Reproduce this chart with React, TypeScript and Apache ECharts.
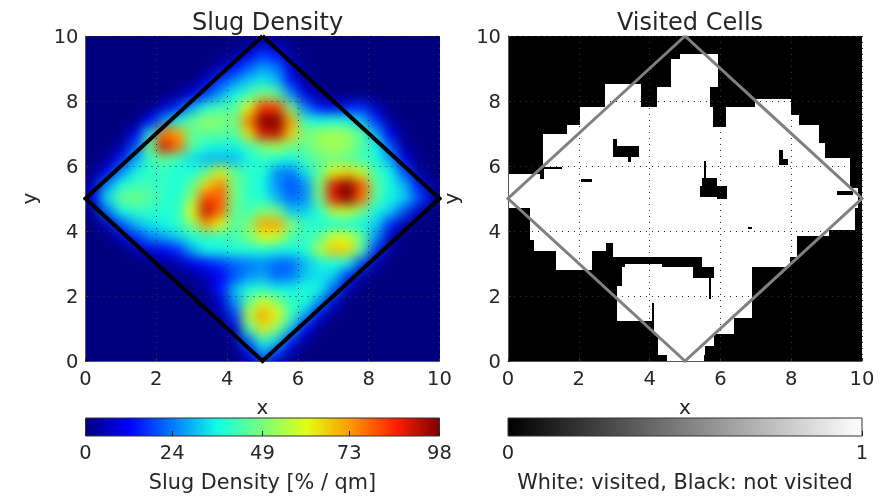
import React, { useEffect, useRef } from "react";
import * as echarts from "echarts";

const FONT = "DejaVu Sans";
const INK = "#262626";

const TICKS = [0, 2, 4, 6, 8, 10];
const DENSITY_BAR_TICKS = [0, 24, 49, 73, 98];
const VISITED_BAR_TICKS = [0, 1];
const JET = ["#00007f", "#0000ff", "#007fff", "#14ffe2", "#7aff7a", "#e2ff14", "#ff9700", "#ff2000", "#7f0000"];
const GREYS = ["#000000", "#ffffff"];

const X_CELLS = ["0.2","0.6","1.0","1.4","1.8","2.2","2.6","3.0","3.4","3.8","4.2","4.6","5.0","5.4","5.8","6.2","6.6","7.0","7.4","7.8","8.2","8.6","9.0","9.4","9.8"];
const Y_CELLS = ["9.8","9.4","9.0","8.6","8.2","7.8","7.4","7.0","6.6","6.2","5.8","5.4","5.0","4.6","4.2","3.8","3.4","3.0","2.6","2.2","1.8","1.4","1.0","0.6","0.2"];

// Slug density per cell, rows from y = 9.8 down to y = 0.2
const DENSITY = [
  [0,0,0,0,0,0,0,0,0,0,0,1,6,3,1,0,0,0,0,0,0,0,0,0,0],
  [0,0,0,0,0,0,0,0,0,0,3,10,18,14,3,0,0,0,0,0,0,0,0,0,0],
  [0,0,0,0,0,0,0,0,0,6,14,22,28,24,8,1,0,0,0,0,0,0,0,0,0],
  [0,0,0,0,0,0,0,0,8,18,26,32,35,30,14,3,0,0,0,0,0,0,0,0,0],
  [0,0,0,0,0,0,2,10,18,28,36,42,50,46,26,10,2,0,0,0,0,0,0,0,0],
  [0,0,0,0,0,8,16,28,38,42,44,62,84,82,48,24,14,10,14,16,6,0,0,0,0],
  [0,0,0,0,12,26,36,46,52,50,48,76,98,98,72,40,36,38,36,30,16,3,0,0,0],
  [0,0,0,10,34,76,72,46,46,46,44,66,90,92,68,48,52,54,52,44,28,10,1,0,0],
  [0,0,4,20,48,90,78,44,38,36,36,42,50,54,48,46,52,54,52,44,36,20,3,0,0],
  [0,2,14,28,40,46,40,34,30,30,30,36,40,38,36,42,46,48,46,42,38,28,10,1,0],
  [1,12,26,36,40,40,38,38,46,62,46,40,38,26,24,34,46,62,66,58,42,36,20,3,0],
  [6,26,38,42,42,40,38,46,66,76,48,40,36,26,20,26,50,90,98,80,46,36,30,14,2],
  [10,34,46,48,44,40,38,52,82,80,48,40,38,30,22,26,48,88,98,78,44,36,32,20,5],
  [2,22,36,40,40,38,40,62,92,78,46,42,50,48,32,32,40,56,58,48,36,32,20,6,0],
  [0,6,20,30,34,36,40,50,72,62,44,50,72,72,50,40,38,38,38,36,32,16,4,0,0],
  [0,0,6,16,24,28,32,38,40,40,42,48,60,58,44,40,46,60,60,46,26,6,0,0,0],
  [0,0,0,4,8,12,16,28,36,36,38,38,38,36,36,38,54,68,66,44,16,2,0,0,0],
  [0,0,0,0,0,2,5,10,14,18,22,24,26,22,22,30,36,38,36,18,4,0,0,0,0],
  [0,0,0,0,0,0,0,2,6,12,20,26,28,22,24,32,34,32,16,3,0,0,0,0,0],
  [0,0,0,0,0,0,0,0,3,14,30,38,40,36,36,38,36,22,5,0,0,0,0,0,0],
  [0,0,0,0,0,0,0,0,0,8,26,46,60,52,40,38,26,8,0,0,0,0,0,0,0],
  [0,0,0,0,0,0,0,0,0,3,18,56,72,62,42,28,10,1,0,0,0,0,0,0,0],
  [0,0,0,0,0,0,0,0,0,0,8,44,64,50,32,12,1,0,0,0,0,0,0,0,0],
  [0,0,0,0,0,0,0,0,0,0,2,22,40,32,14,2,0,0,0,0,0,0,0,0,0],
  [0,0,0,0,0,0,0,0,0,0,0,10,26,16,3,0,0,0,0,0,0,0,0,0,0],
];

// Visited areas: [x from, x to, y from, y to]
const VISITED = [
  [4.87,5.93,9.29,9.46],[4.6,5.93,8.44,9.29],[2.73,3.76,7.81,8.52],[4.21,5.72,7.81,8.44],[6.97,8.0,7.81,8.06],
  [2.02,5.79,7.27,7.81],[6.17,8.0,7.57,7.81],[6.17,8.21,7.27,7.57],[1.67,5.79,7.19,7.27],[6.17,8.79,7.19,7.27],
  [1.67,8.79,6.99,7.19],[0.99,8.79,6.71,6.99],[0.99,8.95,6.24,6.71],[0.99,9.67,5.74,6.24],[0,9.67,5.31,5.74],
  [0,9.9,4.72,5.31],[0.61,9.79,4.03,4.72],[0.61,9.06,3.86,4.03],[0.61,8.16,3.72,3.86],[0.74,8.16,3.62,3.72],
  [0.74,2.77,3.37,3.62],[2.97,8.16,3.37,3.62],[1.36,2.37,3.2,3.37],[2.97,8.16,3.2,3.37],
  [1.36,2.37,2.81,3.2],[5.48,7.98,2.88,3.2],[3.31,4.35,2.88,2.99],[3.22,5.24,2.55,2.88],[5.81,6.89,2.55,2.88],
  [3.22,5.67,2.3,2.55],[5.74,6.89,2.3,2.55],[3.08,5.67,1.92,2.3],[5.74,6.89,1.92,2.3],
  [3.08,6.89,1.79,1.92],[3.08,4.06,1.31,1.79],[4.13,6.89,1.31,1.79],[3.08,4.06,1.24,1.31],[4.13,6.39,0.84,1.31],
  [4.23,5.83,0.46,0.84],[4.23,5.57,0.2,0.46],[4.49,5.55,0,0.2],
];

// Not-visited holes inside the visited area: [x from, x to, y from, y to]
const HOLES = [
  [2.97,3.71,6.28,6.61],[2.97,3.08,6.61,6.83],[3.39,3.48,6.13,6.28],
  [7.66,7.91,6.04,6.22],[7.66,7.76,6.22,6.48],
  [5.41,6.19,5.05,5.38],[5.48,5.9,5.38,5.63],[5.55,5.59,5.63,6.14],[5.9,6.19,4.98,5.05],
  [2.07,2.37,5.51,5.61],[0.91,1.53,5.91,5.97],[0.91,1.03,5.61,5.91],[9.29,9.74,5.12,5.22],[6.77,6.89,4.06,4.13],
];

const DIAMOND = [[5,10],[10,5],[5,0],[0,5],[5,10]];

const PLOT_TOP = 36, PLOT_H = 325, PLOT_W = 354;
const LEFT_X = 85.5, RIGHT_X = 508;
const BAR_TOP = 418, BAR_H = 18;
const BLUR_PAD = 24;

const rectItem = (fill: string) => (params: any, api: any) => {
  const a = api.coord([api.value(0), api.value(3)]);
  const b = api.coord([api.value(1), api.value(2)]);
  const x0 = Math.round(a[0]), y0 = Math.round(a[1]);
  const x1 = Math.max(x0 + 1, Math.round(b[0])), y1 = Math.max(y0 + 1, Math.round(b[1]));
  return { type: "rect", shape: { x: x0, y: y0, width: x1 - x0, height: y1 - y0 }, style: { fill } };
};

const barItem = (colors: string[]) => (params: any, api: any) => {
  const a = api.coord([api.value(0), 1]);
  const b = api.coord([api.value(1), 0]);
  const stops = colors.map((color, i) => ({ offset: i / (colors.length - 1), color }));
  return {
    type: "rect",
    shape: { x: a[0], y: a[1], width: b[0] - a[0], height: b[1] - a[1] },
    style: { fill: new echarts.graphic.LinearGradient(0, 0, 1, 0, stops), stroke: "#333", lineWidth: 1 },
  };
};

const plotAxis = (gridIndex: number, name: string, gap: number) => ({
  type: "value", gridIndex, min: 0, max: 10, interval: 2, z: 5,
  name, nameLocation: "middle", nameGap: gap,
  nameTextStyle: { fontFamily: FONT, fontSize: 20, color: INK },
  axisLine: { show: true, onZero: false, lineStyle: { color: "#555", width: 1 } },
  axisTick: { show: true, inside: true, length: 3, customValues: TICKS, lineStyle: { color: "#333" } },
  axisLabel: { fontFamily: FONT, fontSize: 19.5, color: INK, margin: 7, hideOverlap: false, showMinLabel: true, showMaxLabel: true },
  splitLine: { show: true, lineStyle: { color: "#333", type: [1, 5], width: 1 } },
});

const barAxis = (gridIndex: number, max: number, ticks: number[], name: string) => ({
  type: "value", gridIndex, min: 0, max, z: 5,
  name, nameLocation: "middle", nameGap: 35,
  nameTextStyle: { fontFamily: FONT, fontSize: 20.8, color: INK },
  axisLine: { show: false },
  axisTick: { show: true, inside: true, length: 5, customValues: ticks, lineStyle: { color: "#222" } },
  axisLabel: { fontFamily: FONT, fontSize: 19.5, color: INK, margin: 6, customValues: ticks },
  splitLine: { show: false },
});

const hiddenAxis = (gridIndex: number) => ({ type: "value", gridIndex, min: 0, max: 1, show: false });

export default function App() {
  const heatRef = useRef<HTMLDivElement>(null);
  const mainRef = useRef<HTMLDivElement>(null);

  useEffect(() => {
    const heat = echarts.init(heatRef.current!, undefined, { renderer: "svg" });
    heat.setOption({
      animation: false,
      grid: { left: BLUR_PAD, top: BLUR_PAD, right: BLUR_PAD, bottom: BLUR_PAD },
      xAxis: { type: "category", data: X_CELLS, show: false },
      yAxis: { type: "category", data: Y_CELLS, inverse: true, show: false },
      visualMap: { show: false, type: "continuous", min: 0, max: 98, dimension: 2, inRange: { color: JET } },
      series: [{
        type: "heatmap",
        data: DENSITY.flatMap((row, r) => row.map((v, c) => [c, r, v])),
        itemStyle: { borderWidth: 0 },
      }],
    });

    const main = echarts.init(mainRef.current!, undefined, { renderer: "svg" });
    const titleStyle = { fontFamily: FONT, fontSize: 24, fontWeight: "normal", color: INK };
    main.setOption({
      animation: false,
      backgroundColor: "transparent",
      title: [
        { text: "Slug Density", left: LEFT_X + PLOT_W / 2, top: 5, textAlign: "center", textStyle: titleStyle },
        { text: "Visited Cells", left: RIGHT_X + PLOT_W / 2, top: 5, textAlign: "center", textStyle: titleStyle },
      ],
      grid: [
        { left: LEFT_X, top: PLOT_TOP, width: PLOT_W, height: PLOT_H },
        { left: RIGHT_X, top: PLOT_TOP, width: PLOT_W, height: PLOT_H, show: true, backgroundColor: "#000", borderWidth: 0 },
        { left: LEFT_X, top: BAR_TOP, width: PLOT_W, height: BAR_H },
        { left: RIGHT_X, top: BAR_TOP, width: PLOT_W, height: BAR_H },
      ],
      xAxis: [
        plotAxis(0, "x", 36),
        plotAxis(1, "x", 36),
        barAxis(2, 98, DENSITY_BAR_TICKS, "Slug Density [% / qm]"),
        barAxis(3, 1, VISITED_BAR_TICKS, "White: visited, Black: not visited"),
      ],
      yAxis: [
        plotAxis(0, "y", 47),
        plotAxis(1, "y", 47),
        hiddenAxis(2),
        hiddenAxis(3),
      ],
      series: [
        { type: "custom", xAxisIndex: 1, yAxisIndex: 1, z: 2, data: VISITED, renderItem: rectItem("#ffffff"), clip: true },
        { type: "custom", xAxisIndex: 1, yAxisIndex: 1, z: 3, data: HOLES, renderItem: rectItem("#000000"), clip: true },
        { type: "line", xAxisIndex: 0, yAxisIndex: 0, z: 6, data: DIAMOND, symbol: "none", clip: false, lineStyle: { color: "#000", width: 4, join: "miter" } },
        { type: "line", xAxisIndex: 1, yAxisIndex: 1, z: 6, data: DIAMOND, symbol: "none", clip: false, lineStyle: { color: "#808080", width: 3, join: "miter" } },
        { type: "custom", xAxisIndex: 2, yAxisIndex: 2, z: 2, data: [[0, 98]], renderItem: barItem(JET), clip: false },
        { type: "custom", xAxisIndex: 3, yAxisIndex: 3, z: 2, data: [[0, 1]], renderItem: barItem(GREYS), clip: false },
      ],
    });

    return () => {
      heat.dispose();
      main.dispose();
    };
  }, []);

  return (
    <div style={{ position: "absolute", left: 0, top: 0, width: 890, height: 496, background: "#fff", overflow: "hidden" }}>
      <div style={{ position: "absolute", left: LEFT_X, top: PLOT_TOP, width: PLOT_W, height: PLOT_H, overflow: "hidden" }}>
        <div
          ref={heatRef}
          style={{
            position: "absolute",
            left: -BLUR_PAD,
            top: -BLUR_PAD,
            width: PLOT_W + 2 * BLUR_PAD,
            height: PLOT_H + 2 * BLUR_PAD,
            background: "#00007f",
            filter: "blur(6px)",
          }}
        />
      </div>
      <div ref={mainRef} style={{ position: "absolute", left: 0, top: 0, width: 890, height: 496, filter: "blur(0.4px)" }} />
    </div>
  );
}
